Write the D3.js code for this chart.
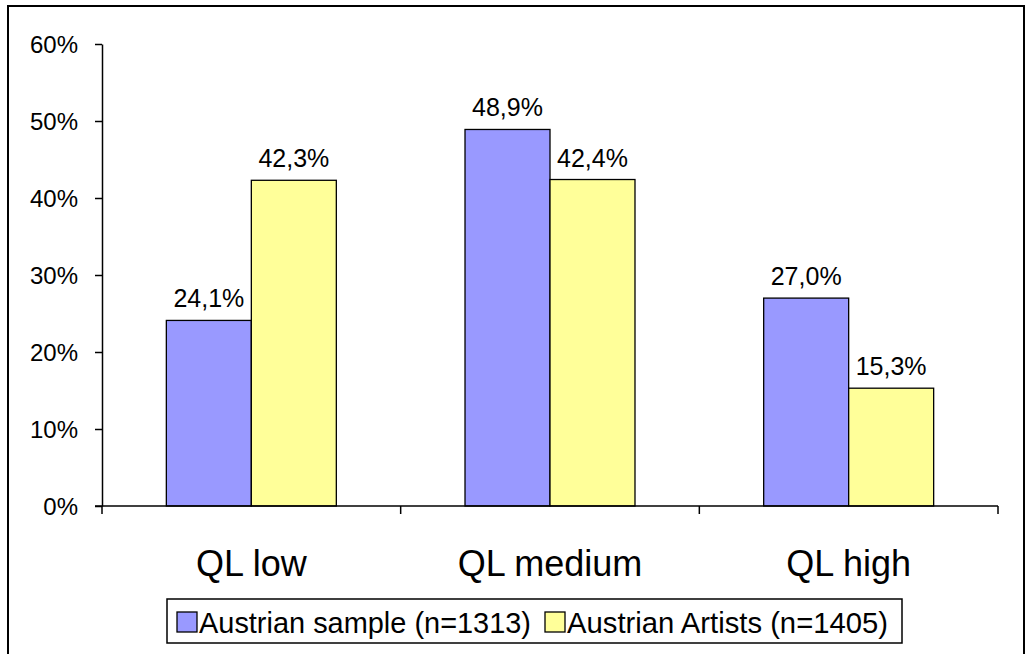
<!DOCTYPE html>
<html>
<head>
<meta charset="utf-8">
<script src="https://cdn.jsdelivr.net/npm/d3@7"></script>
<style>
  html, body { margin: 0; padding: 0; background: #fff; }
  svg { display: block; font-family: "Liberation Sans", Arial, sans-serif; }
</style>
</head>
<body>
<svg id="chart" width="1031" height="654"></svg>
<script>
// Quality-of-life groups and the share of each sample falling into them (%)
const categories = ["QL low", "QL medium", "QL high"];
const seriesNames = ["Austrian sample (n=1313)", "Austrian Artists (n=1405)"];
const austrianSample = [24.1, 48.9, 27.0];
const austrianArtists = [42.3, 42.4, 15.3];
const yTicks = [0, 10, 20, 30, 40, 50, 60];
const colors = ["#9999FF", "#FFFF99"];

const series = [austrianSample, austrianArtists];

const svg = d3.select("#chart");

// Outer frame
svg.append("rect")
  .attr("x", 8).attr("y", 6)
  .attr("width", 1016).attr("height", 660)
  .attr("fill", "none").attr("stroke", "#000").attr("stroke-width", 2);

const plot = { left: 102, right: 998, top: 44, bottom: 506 };

const x = d3.scaleBand().domain(categories).range([plot.left, plot.right]).paddingInner(0).paddingOuter(0);
const xInner = d3.scaleBand().domain(d3.range(series.length))
  .range([0, x.bandwidth()]).paddingOuter(0.757).paddingInner(0);
const y = d3.scaleLinear().domain([0, 60]).range([plot.bottom, plot.top]);

const fmt = v => v.toFixed(1).replace(".", ",") + "%";

// Bars with value labels
categories.forEach((c, ci) => {
  series.forEach((s, si) => {
    const bx = x(c) + xInner(si);
    svg.append("rect")
      .attr("x", bx).attr("y", y(s[ci]))
      .attr("width", xInner.bandwidth())
      .attr("height", y(0) - y(s[ci]))
      .attr("fill", colors[si])
      .attr("stroke", "#000").attr("stroke-width", 1.3);
    svg.append("text")
      .attr("x", bx + xInner.bandwidth() / 2)
      .attr("y", y(s[ci]) - 13)
      .attr("text-anchor", "middle")
      .attr("font-size", 25)
      .text(fmt(s[ci]));
  });
});

// Y axis
const yAxis = d3.axisLeft(y).tickValues(yTicks).tickFormat(d => d + "%").tickSize(7).tickSizeOuter(0);
const gy = svg.append("g").attr("transform", `translate(${plot.left},0)`).call(yAxis);
gy.select(".domain").attr("stroke", "#000").attr("stroke-width", 1.5);
gy.selectAll(".tick line").attr("stroke", "#000").attr("stroke-width", 1.5);
gy.selectAll(".tick text").attr("font-size", 24).attr("font-family", "Liberation Sans, Arial, sans-serif")
  .attr("fill", "#000").attr("x", -24).attr("dy", "0.35em");

// X axis with ticks at category boundaries
const gx = svg.append("g").attr("transform", `translate(0,${plot.bottom})`);
gx.append("line").attr("x1", plot.left - 7).attr("x2", plot.right)
  .attr("stroke", "#000").attr("stroke-width", 1.5);
const boundaries = categories.map(c => x(c)).concat([plot.right]);
gx.selectAll("line.tk").data(boundaries).enter().append("line").attr("class", "tk")
  .attr("x1", d => d).attr("x2", d => d).attr("y1", 0).attr("y2", 8)
  .attr("stroke", "#000").attr("stroke-width", 1.5);
gx.selectAll("text").data(categories).enter().append("text")
  .attr("x", d => x(d) + x.bandwidth() / 2)
  .attr("y", 70)
  .attr("text-anchor", "middle")
  .attr("font-size", 36)
  .text(d => d);

// Legend
const legend = svg.append("g");
legend.append("rect").attr("x", 167).attr("y", 599).attr("width", 735).attr("height", 44)
  .attr("fill", "#fff").attr("stroke", "#000").attr("stroke-width", 1.5);
const legendX = [177, 545];
const legendW = [332, 321];
seriesNames.forEach((name, i) => {
  legend.append("rect").attr("x", legendX[i]).attr("y", 612).attr("width", 20).attr("height", 20)
    .attr("fill", colors[i]).attr("stroke", "#000").attr("stroke-width", 1.3);
  legend.append("text").attr("x", legendX[i] + 22).attr("y", 632.5)
    .attr("font-size", 30)
    .attr("textLength", legendW[i]).attr("lengthAdjust", "spacingAndGlyphs")
    .text(name);
});
</script>
</body>
</html>
